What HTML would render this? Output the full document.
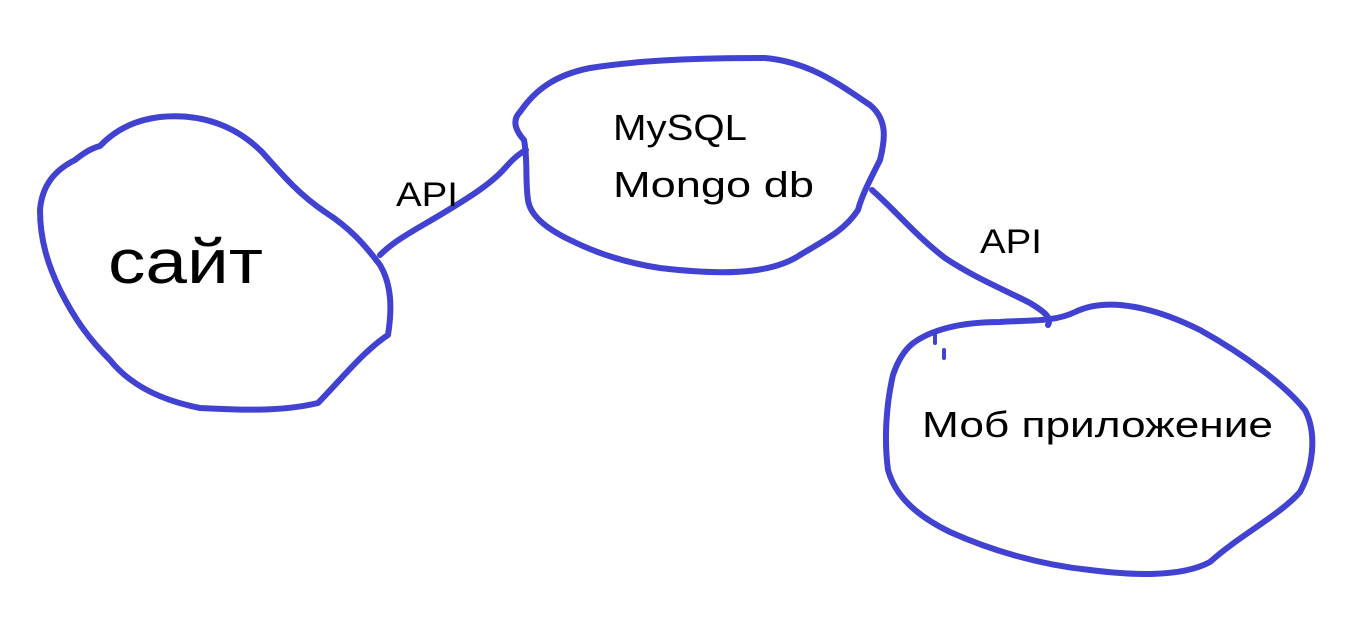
<!DOCTYPE html>
<html><head><meta charset="utf-8"><style>
html,body{margin:0;padding:0;background:#fff;width:1350px;height:629px;overflow:hidden}
svg text{font-family:"Liberation Sans","DejaVu Sans",sans-serif;fill:#000;font-weight:500}
</style></head><body>
<svg width="1350" height="629" viewBox="0 0 1350 629" xmlns="http://www.w3.org/2000/svg">
<g fill="none" stroke="#4141d2" stroke-width="6" stroke-linecap="round" stroke-linejoin="round">
<path d="M100,146 C115,130 135,120 160,117 C200,113 235,125 262,152 C285,178 300,195 325,212 C350,228 365,245 380,265 C392,285 392,310 388,335 C365,350 345,375 318,403 C280,412 240,410 200,408 C160,400 130,385 110,360 C90,340 75,320 60,290 C48,265 40,240 40,210 C42,185 55,170 75,160 C85,152 92,148 100,146 Z"/>
<path d="M520,112 C535,90 555,75 590,68 C640,60 700,58 765,58 C810,62 840,85 870,105 C888,120 885,140 880,160 C870,180 862,195 858,210 C845,230 825,240 800,255 C770,275 720,275 660,268 C620,262 590,250 570,240 C545,228 530,215 528,200 C525,180 528,160 524,140 C515,130 512,120 520,112 Z"/>
<path d="M912,344 C930,330 960,322 1000,322 C1030,320 1055,322 1075,312 C1110,295 1160,310 1200,330 C1245,355 1285,385 1305,410 C1318,435 1312,470 1300,492 C1280,515 1240,535 1210,562 C1180,578 1130,575 1090,570 C1040,565 990,550 950,532 C915,515 895,495 888,470 C884,440 886,405 893,375 C898,360 905,350 912,344 Z"/>
<path d="M380,255 C395,240 415,230 440,215 C465,200 490,185 505,168 C512,160 520,153 526,150"/>
<path d="M872,190 C895,210 915,235 945,258 C975,278 1005,290 1030,303 C1045,312 1052,318 1048,325"/>
<path d="M935,335 L935,343 M944,350 L944,358" stroke-width="4"/>
</g>
<text x="108" y="283" font-size="62" textLength="155" lengthAdjust="spacingAndGlyphs">сайт</text>
<text x="613" y="140" font-size="36" textLength="134" lengthAdjust="spacingAndGlyphs">MySQL</text>
<text x="613" y="197" font-size="36" textLength="201" lengthAdjust="spacingAndGlyphs">Mongo db</text>
<text x="396" y="206" font-size="34" textLength="62" lengthAdjust="spacingAndGlyphs">API</text>
<text x="980" y="253" font-size="34" textLength="62" lengthAdjust="spacingAndGlyphs">API</text>
<text x="922" y="437" font-size="36" textLength="351" lengthAdjust="spacingAndGlyphs">Моб приложение</text>
</svg>
</body></html>
